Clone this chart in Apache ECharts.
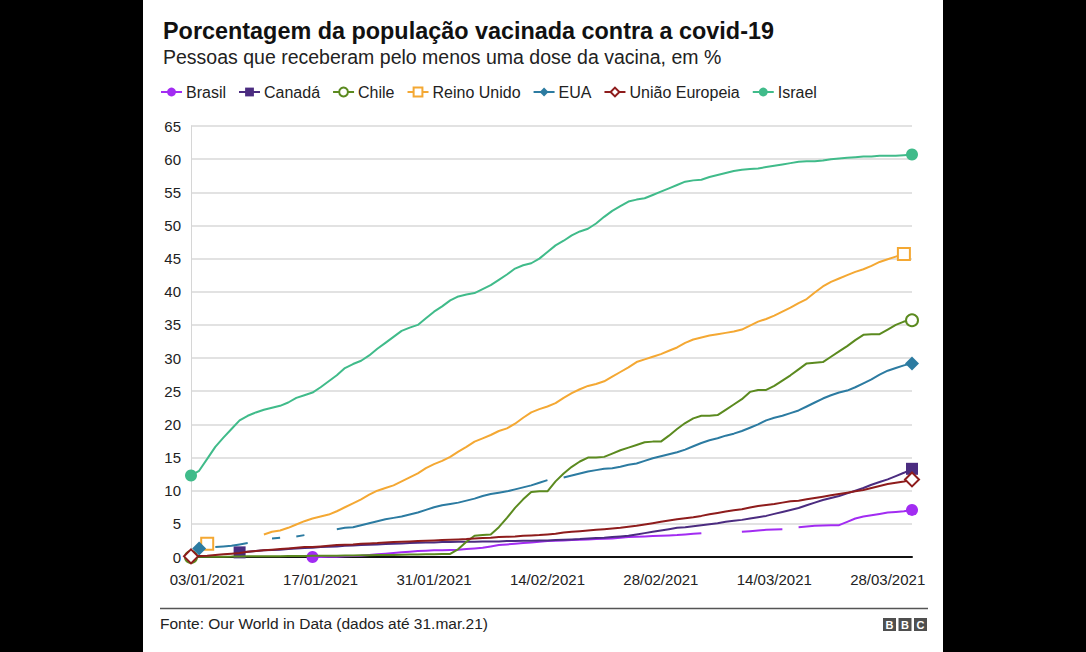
<!DOCTYPE html>
<html>
<head>
<meta charset="utf-8">
<script src="https://cdn.jsdelivr.net/npm/echarts@6/dist/echarts.min.js"></script>
<style>
html,body{margin:0;padding:0;background:#000;width:1086px;height:652px;overflow:hidden;}
#panel{position:absolute;left:143px;top:0;width:800px;height:652px;background:#fff;}
#chart{position:absolute;left:0;top:0;width:1086px;height:652px;}
</style>
</head>
<body>
<div id="panel"></div>
<div id="chart"></div>
<script>
// Dates 01/01/2021 .. 31/03/2021
const dates = [];
(function(){
  const months = [[1,31],[2,28],[3,31]];
  for (const [m,n] of months) for (let d=1; d<=n; d++)
    dates.push(String(d).padStart(2,'0')+'/'+String(m).padStart(2,'0')+'/2021');
})();

const yTicks = [0,5,10,15,20,25,30,35,40,45,50,55,60,65];

const brasil = [null,null,null,null,null,null,null,null,null,null,
  null,null,null,null,null,0,0,0.02,0.05,0.1,
  0.15,0.2,0.3,0.4,0.5,0.6,0.7,0.8,0.9,0.95,
  1.0,1.0,1.05,1.1,1.2,1.3,1.4,1.6,1.8,1.9,
  2.0,2.1,2.2,2.3,2.4,2.45,2.5,2.55,2.6,2.65,
  2.7,2.75,2.8,2.9,3.0,3.05,3.1,3.15,3.2,3.25,
  3.3,3.4,3.5,3.6,null,null,null,null,3.8,3.9,
  4.0,4.1,4.15,4.2,null,4.5,4.6,4.7,4.75,4.8,
  4.8,5.3,5.8,6.1,6.3,6.5,6.7,6.8,6.9,7.1];

const canada = [null,null,null,null,null,null,0.7,0.8,0.9,1.0,
  1.05,1.1,1.2,1.3,1.35,1.4,1.5,1.55,1.6,1.7,
  1.75,1.8,1.85,1.9,1.95,2.0,2.05,2.1,2.15,2.2,
  2.2,2.25,2.25,2.3,2.3,2.3,2.35,2.35,2.35,2.4,
  2.4,2.45,2.45,2.5,2.5,2.55,2.6,2.65,2.7,2.8,
  2.85,2.9,3.0,3.1,3.2,3.4,3.6,3.8,4.0,4.2,
  4.4,4.5,4.65,4.8,4.95,5.1,5.3,5.45,5.6,5.8,
  6.0,6.2,6.5,6.8,7.1,7.4,7.8,8.2,8.6,8.9,
  9.2,9.6,10.0,10.4,10.9,11.3,11.7,12.2,12.7,13.3];

const chile = [0,0.02,0.03,0.04,0.05,0.06,0.08,0.1,0.1,0.1,
  0.12,0.13,0.14,0.15,0.16,0.17,0.18,0.19,0.2,0.22,
  0.24,0.26,0.28,0.3,0.31,0.32,0.34,0.36,0.38,0.4,
  0.42,0.44,0.46,1.2,2.3,3.2,3.3,3.4,4.5,5.9,
  7.4,8.7,9.8,9.9,9.9,11.4,12.6,13.6,14.4,15.0,
  15.0,15.1,15.6,16.1,16.5,16.9,17.3,17.4,17.4,18.3,
  19.3,20.2,20.9,21.3,21.3,21.4,22.2,23.0,23.8,24.9,
  25.2,25.2,25.8,26.6,27.4,28.3,29.2,29.3,29.4,30.2,
  31.0,31.8,32.7,33.5,33.6,33.6,34.3,35.0,35.5,35.7];

const reinoUnido = [null,null,2.0,null,null,null,null,null,null,3.4,
  3.8,4.0,4.4,4.9,5.4,5.8,6.1,6.4,6.9,7.5,
  8.1,8.7,9.4,10.0,10.4,10.8,11.4,12.0,12.6,13.4,
  14.0,14.5,15.1,15.9,16.6,17.4,17.9,18.4,19.0,19.4,
  20.1,21.0,21.8,22.3,22.7,23.2,24.0,24.7,25.3,25.8,
  26.1,26.5,27.2,27.9,28.6,29.4,29.8,30.2,30.6,31.1,
  31.6,32.3,32.8,33.1,33.4,33.6,33.8,34.0,34.3,34.9,
  35.5,35.9,36.4,37.0,37.6,38.3,38.9,39.9,40.8,41.5,
  42.0,42.5,43.0,43.4,43.9,44.5,44.9,45.3,45.7,null];

const eua = [null,1.3,null,1.5,1.6,1.7,1.9,2.1,null,null,
  2.8,2.9,null,3.1,3.3,null,null,null,4.2,4.4,
  4.5,4.8,5.1,5.4,5.7,5.9,6.1,6.4,6.7,7.1,
  7.5,7.8,8.0,8.2,8.5,8.8,9.2,9.5,9.7,9.9,
  10.2,10.5,10.8,11.2,11.6,null,12.0,12.3,12.6,12.9,
  13.1,13.3,13.4,13.6,13.9,14.1,14.5,14.9,15.2,15.5,
  15.8,16.2,16.7,17.2,17.6,17.9,18.3,18.6,19.0,19.5,
  20.0,20.6,21.0,21.3,21.7,22.1,22.7,23.3,23.9,24.4,
  24.8,25.1,25.6,26.2,26.8,27.5,28.1,28.5,28.9,29.2];

const uniaoEuropeia = [0.1,0.15,0.2,0.3,0.4,0.5,0.6,0.8,0.9,1.0,
  1.1,1.2,1.3,1.4,1.5,1.5,1.6,1.7,1.8,1.85,
  1.9,2.0,2.05,2.1,2.2,2.25,2.3,2.35,2.4,2.45,
  2.5,2.55,2.6,2.65,2.7,2.8,2.85,2.9,3.0,3.05,
  3.1,3.2,3.25,3.3,3.4,3.5,3.7,3.8,3.9,4.0,
  4.1,4.2,4.3,4.4,4.55,4.7,4.9,5.1,5.3,5.5,
  5.7,5.85,6.0,6.2,6.45,6.65,6.85,7.05,7.2,7.45,
  7.7,7.85,8.0,8.2,8.4,8.5,8.7,8.9,9.1,9.3,
  9.5,9.7,9.9,10.1,10.4,10.7,11.0,11.2,11.4,11.7];

const israel = [12.3,13.0,14.8,16.6,18.0,19.3,20.6,21.3,21.8,22.2,
  22.5,22.8,23.3,24.0,24.4,24.8,25.6,26.5,27.4,28.5,
  29.1,29.6,30.4,31.4,32.3,33.2,34.1,34.6,35.0,36.0,
  37.0,37.8,38.7,39.3,39.6,39.8,40.4,41.0,41.8,42.6,
  43.5,44.0,44.3,45.0,46.0,47.0,47.7,48.5,49.1,49.5,
  50.3,51.3,52.2,52.9,53.6,53.9,54.1,54.6,55.1,55.6,
  56.1,56.6,56.8,56.9,57.3,57.6,57.9,58.2,58.4,58.5,
  58.6,58.8,59.0,59.2,59.4,59.6,59.7,59.7,59.8,60.0,
  60.1,60.2,60.3,60.4,60.4,60.5,60.5,60.5,60.6,60.7];

const seriesNames = ['Brasil','Canadá','Chile','Reino Unido','EUA','União Europeia','Israel'];
const seriesData = [brasil, canada, chile, reinoUnido, eua, uniaoEuropeia, israel];
const seriesColors = ['#a22cf2','#4b2c80','#5b8a1f','#f4a833','#2c7ba1','#8e1c1c','#40bb8a'];
const seriesSymbols = ['circle','rect','circle','rect','diamond','diamond','circle'];
const seriesHollow = [false,false,true,true,false,true,false];

const FONT = '"Liberation Sans", Arial, sans-serif';

function endpoints(arr){
  let f=-1,l=-1;
  arr.forEach((v,i)=>{ if(v!==null){ if(f<0) f=i; l=i; } });
  return [f,l];
}

const series = seriesNames.map((name, k) => {
  const [f,l] = endpoints(seriesData[k]);
  const c = seriesColors[k];
  const hollow = seriesHollow[k];
  const sym = seriesSymbols[k];
  const big = sym==='diamond' ? 14 : 12;
  return {
    name, type:'line', data: seriesData[k],
    connectNulls:false, smooth:false,
    symbol: sym,
    showSymbol:true, showAllSymbol:true,
    symbolSize: (v,p) => (p.dataIndex===f || p.dataIndex===l) ? big : 0,
    lineStyle:{color:c, width:2},
    itemStyle: hollow ? {color:'#fff', borderColor:c, borderWidth:2} : {color:c, borderColor:c, borderWidth:0},
    emphasis:{disabled:true},
    z: 2 + k
  };
});

const chart = echarts.init(document.getElementById('chart'), null, {renderer:'svg'});
chart.setOption({
  backgroundColor:'transparent',
  animation:false,
  textStyle:{fontFamily:FONT},
  title:{
    text:'Porcentagem da população vacinada contra a covid-19',
    subtext:'Pessoas que receberam pelo menos uma dose da vacina, em %',
    left:158, top:14, itemGap:5,
    textStyle:{fontSize:23.4, fontWeight:'bold', color:'#111', fontFamily:FONT},
    subtextStyle:{fontSize:19.5, color:'#222', fontFamily:FONT}
  },
  legend:{
    data: seriesNames,
    left:155, top:79,
    itemWidth:21, itemHeight:11, itemGap:12,
    textStyle:{fontSize:16, color:'#222', fontFamily:FONT, padding:[0,0,0,-1]}
  },
  grid:{left:191, right:174, top:126, bottom:95, containLabel:false},
  xAxis:{
    type:'category', data: dates, boundaryGap:false,
    axisLine:{show:true, lineStyle:{color:'#111', width:2}},
    axisTick:{show:false},
    axisLabel:{
      interval:(i)=> i>=2 && (i-2)%14===0,
      fontSize:15, color:'#222', margin:15, fontFamily:FONT
    },
    splitLine:{show:false}
  },
  yAxis:{
    type:'value', min:0, max:65, interval:5,
    axisLine:{show:true, lineStyle:{color:'#d6d6d6', width:1}},
    axisTick:{show:false},
    axisLabel:{fontSize:15, color:'#222', margin:10, fontFamily:FONT,
      formatter:(v)=> yTicks.includes(v) ? String(v) : ''},
    splitLine:{show:true, lineStyle:{color:'#d9d9d9', width:1.5}}
  },
  graphic:[
    {type:'line', shape:{x1:160,y1:608.5,x2:928,y2:608.5}, style:{stroke:'#555', lineWidth:1.5}, silent:true},
    {type:'text', left:160, top:615, style:{text:'Fonte: Our World in Data (dados até 31.mar.21)', font:'15.5px '+FONT, fill:'#222'}, silent:true},
    {type:'group', left:883, top:618, silent:true, children:[
      {type:'rect', shape:{x:0,y:0,width:13,height:13}, style:{fill:'#4f4f4f'}},
      {type:'rect', shape:{x:15.5,y:0,width:13,height:13}, style:{fill:'#4f4f4f'}},
      {type:'rect', shape:{x:31,y:0,width:13,height:13}, style:{fill:'#4f4f4f'}},
      {type:'text', x:6.5, y:7, style:{text:'B', font:'bold 11px '+FONT, fill:'#fff', align:'center', verticalAlign:'middle'}},
      {type:'text', x:22, y:7, style:{text:'B', font:'bold 11px '+FONT, fill:'#fff', align:'center', verticalAlign:'middle'}},
      {type:'text', x:37.5, y:7, style:{text:'C', font:'bold 11px '+FONT, fill:'#fff', align:'center', verticalAlign:'middle'}}
    ]}
  ],
  series
});
</script>
</body>
</html>
